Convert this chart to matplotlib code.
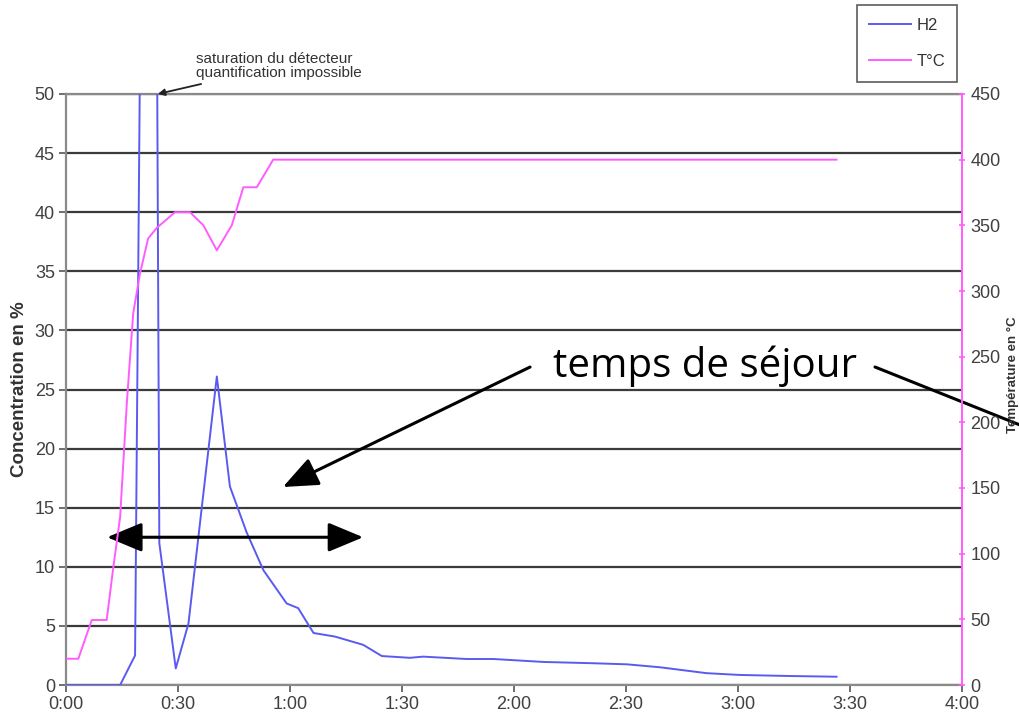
import numpy as np
import matplotlib.pyplot as plt
from matplotlib.ticker import MultipleLocator

# H2 concentration (%) vs time (min) -- values above 50 are the saturated detector
h2_time = [0, 14.5, 18.5, 20.0, 24.3, 25.0, 29.4, 32.8, 40.4, 43.9, 48.4, 52.9,
           59.1, 62.2, 66.3, 72.0, 79.6, 84.6, 92.1, 95.7, 107.3, 114.5, 127.9,
           141.3, 150.2, 159.1, 171.6, 180.5, 193.9, 206.4]
h2_conc = [0, 0, 2.5, 60, 60, 12.0, 1.4, 5.2, 26.1, 16.8, 12.9, 9.7,
           6.9, 6.5, 4.4, 4.1, 3.4, 2.45, 2.3, 2.4, 2.2, 2.2, 1.95,
           1.84, 1.75, 1.5, 1.0, 0.85, 0.76, 0.7]

# temperature (deg C) vs time (min)
t_time = [0, 3.3, 6.9, 10.9, 12.6, 14.5, 16.3, 18.0, 19.8, 22.0, 24.3, 29.2,
          33.2, 36.8, 40.4, 44.4, 47.5, 51.1, 55.5, 206.4]
t_temp = [20, 20, 49.5, 49.5, 88, 128, 215, 283, 313, 340, 348, 360,
          360, 350, 331, 350, 379, 379, 400, 400]

xtick_vals = list(range(0, 241, 30))
xtick_labels = ["0:00", "0:30", "1:00", "1:30", "2:00", "2:30", "3:00", "3:30", "4:00"]

blue = "#5a5af0"
pink = "#ff5cff"
txt = "#404040"

plt.rcParams["font.family"] = ["Liberation Sans", "DejaVu Sans"]

fig = plt.figure(figsize=(10.2, 7.17), dpi=100)
ax = fig.add_axes([66 / 1020, 1 - 685 / 717, 896 / 1020, 591 / 717])
ax2 = ax.twinx()

ax.plot(h2_time, h2_conc, color=blue, lw=1.4, label="H2", zorder=3)
ax2.plot(t_time, t_temp, color=pink, lw=1.4, label="T°C", zorder=3)

ax.set_xlim(0, 240)
ax.set_ylim(0, 50)
ax2.set_ylim(0, 450)
ax.set_xticks(xtick_vals)
ax.set_xticklabels(xtick_labels)
ax.yaxis.set_major_locator(MultipleLocator(5))
ax2.yaxis.set_major_locator(MultipleLocator(50))

ax.yaxis.grid(True, color="#3a3a3a", lw=1.6)
ax.set_axisbelow(True)
for side in ["left", "bottom", "top"]:
    ax.spines[side].set_color("#8a8a8a")
    ax.spines[side].set_linewidth(1.6)
ax.spines["right"].set_visible(False)
for side in ["left", "bottom", "top"]:
    ax2.spines[side].set_visible(False)
ax2.spines["right"].set_color(pink)
ax2.spines["right"].set_linewidth(1.4)

ax.tick_params(axis="both", labelsize=13, colors="#555555", labelcolor=txt,
               length=5, width=1.2, pad=3)
ax2.tick_params(axis="y", labelsize=13, colors=pink, labelcolor=txt,
                length=4, width=1.2, direction="inout", pad=4)

ax.set_ylabel("Concentration en %", fontsize=13.5, fontweight="bold", color="#333333",
              labelpad=5)
fig.text(1013 / 1020, 1 - 375 / 717, "Température en °C", rotation=90,
         ha="center", va="center", fontsize=9.5, fontweight="bold", color="#333333")

ax.annotate("saturation du détecteur\nquantification impossible",
            xy=(24.6, 50), xycoords="data",
            xytext=(196 / 1020, 1 - 66 / 717), textcoords="figure fraction",
            ha="left", va="center", fontsize=11, color="#333333", linespacing=1.05,
            arrowprops=dict(arrowstyle="-|>", color="#222222", lw=1.3,
                            mutation_scale=10, shrinkA=3, shrinkB=0),
            annotation_clip=False)

ax.text(171.2, 27.0, "temps de séjour", fontsize=29, family=["Open Sans", "DejaVu Sans"],
        ha="center", va="center", color="black")

ax.annotate("", xy=(58.1, 16.75), xytext=(124.3, 26.9),
            arrowprops=dict(arrowstyle="-|>,head_length=1.2,head_width=0.5",
                            color="black", lw=2.2, mutation_scale=18,
                            shrinkA=0, shrinkB=0))
ax.annotate("", xy=(1030 / 1020, 1 - 429 / 717), xycoords="figure fraction",
            xytext=(875 / 1020, 1 - 367 / 717), textcoords="figure fraction",
            arrowprops=dict(arrowstyle="-", color="black", lw=2.2, shrinkA=0, shrinkB=0),
            annotation_clip=False)
ax.annotate("", xy=(11.0, 12.5), xytext=(79.6, 12.5),
            arrowprops=dict(arrowstyle="<|-|>,head_length=1.2,head_width=0.5",
                            color="black", lw=2.2, mutation_scale=18,
                            shrinkA=0, shrinkB=0))

h1, l1 = ax.get_legend_handles_labels()
h2, l2 = ax2.get_legend_handles_labels()
leg = fig.legend(h1 + h2, l1 + l2, loc="upper left",
                 bbox_to_anchor=(857 / 1020, 1 - 5 / 717), fontsize=12,
                 frameon=True, fancybox=False, handlelength=2.5,
                 labelspacing=1.3, borderpad=0.75, handletextpad=0.3,
                 borderaxespad=0)
leg.get_frame().set_edgecolor("#333333")
leg.get_frame().set_linewidth(1.2)
for t in leg.get_texts():
    t.set_color("#333333")

fig.savefig("out.png", dpi=100)
